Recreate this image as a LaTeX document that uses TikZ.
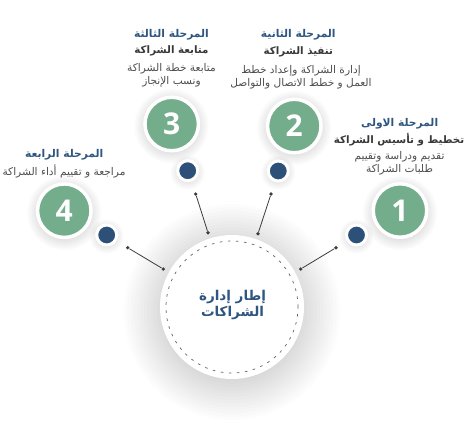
\documentclass[tikz,border=0pt]{standalone}
\usepackage{fontspec}
\setmainfont{Open Sans}
\newfontfamily\arabicfont[Script=Arabic]{DejaVu Sans}
\TeXXeTstate=1
\definecolor{stageblue}{HTML}{2E5680}
\definecolor{dotblue}{HTML}{2C5077}
\definecolor{stagegreen}{HTML}{74AD8B}
\definecolor{txtdark}{HTML}{383838}
\definecolor{txtgray}{HTML}{4E4E4E}
\definecolor{linegray}{HTML}{3C3C3C}
\newcommand{\ar}[1]{{\arabicfont\beginR #1\endR}}
\newcommand{\glowat}[5]{%
  \foreach \k in {1,...,#4}{\fill[black,opacity=#5] #1 circle ({#2+(#3-#2)*\k/#4});}}
\begin{document}
\begin{tikzpicture}[x=1pt,y=-1pt,
  titletext/.style={font=\fontsize{10.7}{13}\selectfont\bfseries, text=stageblue, inner sep=0pt},
  subtext/.style={font=\fontsize{10.3}{13}\selectfont\bfseries, text=txtdark, inner sep=0pt},
  bodytext/.style={font=\fontsize{10.6}{13}\selectfont, text=txtgray, align=center, inner sep=0pt},
  numcircle/.style={circle, fill=stagegreen, draw=white, line width=3.5pt, minimum size=53.5pt, inner sep=0pt,
     text=white, font=\fontsize{30}{30}\selectfont\bfseries},
  bluedot/.style={circle, fill=dotblue, draw=white, line width=3pt, minimum size=20pt, inner sep=0pt},
  enddot/.style={circle, fill=linegray, minimum size=3.6pt, inner sep=0pt},
  conn/.style={draw=linegray, line width=0.8pt}]
\useasboundingbox (0,0) rectangle (465,445);
\fill[white] (0,0) rectangle (465,445);

% soft shadows
\begin{scope}
\glowat{(232,312)}{62pt}{108pt}{14}{0.011}
\glowat{(171.5,126)}{24pt}{37pt}{8}{0.014}
\glowat{(64.3,213)}{24pt}{37pt}{8}{0.014}
\glowat{(294.3,128)}{24pt}{37pt}{8}{0.014}
\glowat{(400,213)}{24pt}{37pt}{8}{0.014}
\glowat{(187.7,172.5)}{9pt}{17pt}{6}{0.014}
\glowat{(106.7,236.5)}{9pt}{17pt}{6}{0.014}
\glowat{(278.3,172.5)}{9pt}{17pt}{6}{0.014}
\glowat{(356.5,236.5)}{9pt}{17pt}{6}{0.014}
\end{scope}

% central circle
\node[circle, fill=white, minimum size=144pt, inner sep=0pt] (center) at (232,307) {};
\draw[linegray!80, line width=0.7pt, dash pattern=on 2.6pt off 5.5pt] (center.center) circle (66pt);
\node[font=\fontsize{13.5}{16}\selectfont\bfseries, text=stageblue, align=center, inner sep=0pt] (centertext) at (232.5,304.7)
  {\ar{إطار إدارة}\\\ar{الشراكات}};

% number circles
\node[numcircle] (n3) at (171.7,124) {3};
\node[numcircle] (n4) at (64.3,210.7) {4};
\node[numcircle] (n2) at (294.3,126) {2};
\node[numcircle] (n1) at (400,210.5) {1};

% blue dots
\node[bluedot] (d3) at (187.7,170.7) {};
\node[bluedot] (d4) at (106.7,235) {};
\node[bluedot] (d2) at (278.3,171) {};
\node[bluedot] (d1) at (356.5,235) {};

% connectors
\node[enddot] (a4) at (127.7,247.7) {};
\node[enddot] (b4) at (163.3,269) {};
\node[enddot] (a3) at (195.7,194) {};
\node[enddot] (b3) at (208,232.7) {};
\node[enddot] (a2) at (271,194) {};
\node[enddot] (b2) at (258,233.7) {};
\node[enddot] (a1) at (336,247.7) {};
\node[enddot] (b1) at (300.7,269) {};
\draw[conn] (a4) -- (b4);
\draw[conn] (a3) -- (b3);
\draw[conn] (a2) -- (b2);
\draw[conn] (a1) -- (b1);

% stage 1
\node[titletext] (t1) at (399.7,123.3) {\ar{المرحلة الاولى}};
\node[subtext] (s1) at (399,140) {\ar{تخطيط و تأسيس الشراكة}};
\node[bodytext] (b1t) at (399.5,163.4) {\ar{تقديم ودراسة وتقييم}\\\ar{طلبات الشراكة}};

% stage 2
\node[titletext] (t2) at (298.3,35) {\ar{المرحلة الثانية}};
\node[subtext] (s2) at (298.3,51.7) {\ar{تنفيذ الشراكة}};
\node[bodytext] (b2t) at (301,77.5) {\ar{إدارة الشراكة وإعداد خطط}\\\ar{العمل و خطط الاتصال والتواصل}};

% stage 3
\node[titletext] (t3) at (171.5,34.3) {\ar{المرحلة الثالثة}};
\node[subtext] (s3) at (171.5,51) {\ar{متابعة الشراكة}};
\node[bodytext] (b3t) at (171.5,75.5) {\ar{متابعة خطة الشراكة}\\\ar{ونسب الإنجاز}};

% stage 4
\node[titletext] (t4) at (64.2,155) {\ar{المرحلة الرابعة}};
\node[bodytext] (b4t) at (64,171.7) {\ar{مراجعة و تقييم أداء الشراكة}};
\end{tikzpicture}
\end{document}
